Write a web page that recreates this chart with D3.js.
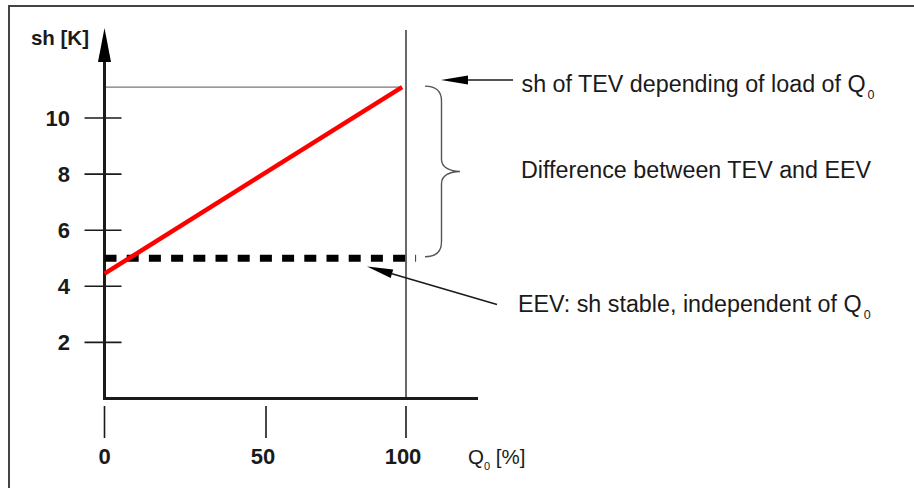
<!DOCTYPE html>
<html>
<head>
<meta charset="utf-8">
<script src="https://cdn.jsdelivr.net/npm/d3@7/dist/d3.min.js"></script>
<style>
  html, body { margin: 0; padding: 0; background: #fff; }
  svg { display: block; }
</style>
</head>
<body>
<svg id="chart" width="914" height="488"></svg>
<script>
// ---- data ----
const xTicks = [0, 50, 100];
const yTicks = [2, 4, 6, 8, 10];
const tevLoad = [0, 98.6];     // Q0 [%]
const tevSh = [4.45, 11.1];    // sh [K] of TEV
const eevLoad = [0, 103.6];
const eevSh = [5, 5];          // sh [K] of EEV
const tevMaxSh = 11.1;
const fullLoad = 100;
const yLabel = "sh [K]";
const xLabelMain = "Q", xLabelSub = "0", xLabelRest = " [%]";
const notes = [
  { main: "sh of TEV depending of load of Q", sub: "0" },
  { main: "Difference between TEV and EEV", sub: "" },
  { main: "EEV: sh stable, independent of Q", sub: "0" }
];

// ---- layout ----
const svg = d3.select("#chart");
const x = d3.scaleLinear().domain([0, 50, 100]).range([104.5, 266, 406]);
const y = d3.scaleLinear().domain([0, 10]).range([398.5, 118]);
const ink = "#1a1a1a";
const font = "'Liberation Sans', Arial, Helvetica, sans-serif";

// outer frame (only left and top visible)
svg.append("rect").attr("x", 9).attr("y", 6).attr("width", 1000).attr("height", 600)
  .attr("fill", "none").attr("stroke", "#444").attr("stroke-width", 2);

// gray reference line at TEV max
svg.append("line")
  .attr("x1", x(0)).attr("x2", x(tevLoad[1]))
  .attr("y1", y(tevMaxSh)).attr("y2", y(tevMaxSh))
  .attr("stroke", "#777").attr("stroke-width", 1.3);

// vertical full-load line
svg.append("line")
  .attr("x1", x(fullLoad)).attr("x2", x(fullLoad))
  .attr("y1", 30).attr("y2", y(0))
  .attr("stroke", "#2a2a2a").attr("stroke-width", 1.4);

// y axis with arrow
svg.append("line").attr("x1", x(0)).attr("x2", x(0))
  .attr("y1", y(0) + 1.5).attr("y2", 60)
  .attr("stroke", ink).attr("stroke-width", 3);
svg.append("path")
  .attr("d", `M${x(0)},28 L${x(0) - 6.5},62 L${x(0) + 6.5},62 Z`)
  .attr("fill", "#000");

// x axis
svg.append("line").attr("x1", x(0) - 1.5).attr("x2", 478)
  .attr("y1", y(0)).attr("y2", y(0))
  .attr("stroke", ink).attr("stroke-width", 3);

// y ticks
const yt = svg.append("g");
yt.selectAll("line").data(yTicks).join("line")
  .attr("x1", x(0) - 20).attr("x2", x(0) + 17)
  .attr("y1", d => y(d)).attr("y2", d => y(d))
  .attr("stroke", ink).attr("stroke-width", 1.6);
yt.selectAll("text").data(yTicks).join("text")
  .attr("x", 70).attr("y", d => y(d)).attr("dy", "0.36em")
  .attr("text-anchor", "end")
  .attr("font-family", font).attr("font-weight", "bold").attr("font-size", 22)
  .attr("fill", ink).text(d => d);

// x ticks
const xt = svg.append("g");
xt.selectAll("line").data(xTicks).join("line")
  .attr("x1", d => x(d)).attr("x2", d => x(d))
  .attr("y1", 406).attr("y2", 438)
  .attr("stroke", ink).attr("stroke-width", 1.6);
xt.selectAll("text").data(xTicks).join("text")
  .attr("x", d => x(d) - (d === 0 ? 0 : 3)).attr("y", 464)
  .attr("text-anchor", "middle")
  .attr("font-family", font).attr("font-weight", "bold").attr("font-size", 22)
  .attr("fill", ink).text(d => d);

// axis labels
svg.append("text").attr("x", 89).attr("y", 45).attr("text-anchor", "end")
  .attr("font-family", font).attr("font-weight", "bold").attr("font-size", 20.5)
  .attr("fill", ink).text(yLabel);
const xl = svg.append("text").attr("x", 468).attr("y", 464)
  .attr("font-family", font).attr("font-size", 20.5).attr("fill", ink);
xl.append("tspan").text(xLabelMain);
xl.append("tspan").attr("font-size", 11).attr("dy", 6).text(xLabelSub);
xl.append("tspan").attr("dy", -6).text(xLabelRest);

// EEV dashed line
const line = d3.line().x(d => x(d[0])).y(d => y(d[1]));
svg.append("path")
  .attr("d", line(d3.zip(eevLoad, eevSh)))
  .attr("fill", "none").attr("stroke", "#000").attr("stroke-width", 7)
  .attr("stroke-dasharray", "12,10.2");

// TEV red line
svg.append("path")
  .attr("d", line(d3.zip(tevLoad, tevSh)))
  .attr("fill", "none").attr("stroke", "#ff0000").attr("stroke-width", 4.5);

// brace
const bt = y(tevMaxSh) - 1, bb = y(eevSh[0]) - 1.5, bm = (bt + bb) / 2;
svg.append("path")
  .attr("d", `M425,${bt} C436,${bt} 441.5,${bt + 5} 441.5,${bt + 15} L441.5,${bm - 12}
              C441.5,${bm - 4} 450,${bm} 460,${bm} C450,${bm} 441.5,${bm + 4} 441.5,${bm + 12}
              L441.5,${bb - 15} C441.5,${bb - 5} 436,${bb} 425,${bb}`)
  .attr("fill", "none").attr("stroke", "#555").attr("stroke-width", 1.4);

// arrow 1 (horizontal)
svg.append("line").attr("x1", 513).attr("x2", 462).attr("y1", 80).attr("y2", 80)
  .attr("stroke", ink).attr("stroke-width", 1.6);
svg.append("path").attr("d", "M441,80 L468,75.5 L468,84.5 Z").attr("fill", "#000");

// arrow 2 (diagonal)
const ax1 = 497, ay1 = 304.5, ax2 = 367, ay2 = 266.5;
const ang = Math.atan2(ay1 - ay2, ax1 - ax2);
const hl = 26, hw = 4.5;
const bx = ax2 + hl * Math.cos(ang), by = ay2 + hl * Math.sin(ang);
svg.append("line").attr("x1", ax1).attr("y1", ay1).attr("x2", bx).attr("y2", by)
  .attr("stroke", ink).attr("stroke-width", 1.6);
svg.append("path")
  .attr("d", `M${ax2},${ay2} L${bx - hw * Math.sin(ang)},${by + hw * Math.cos(ang)} L${bx + hw * Math.sin(ang)},${by - hw * Math.cos(ang)} Z`)
  .attr("fill", "#000");

// annotation texts
const noteY = [92, 178, 312];
const noteX = [521.5, 521, 518];
notes.forEach((n, i) => {
  const t = svg.append("text").attr("x", noteX[i]).attr("y", noteY[i])
    .attr("font-family", font).attr("font-size", 23.3).attr("fill", ink);
  t.append("tspan").text(n.main);
  if (n.sub) t.append("tspan").attr("font-size", 12.5).attr("dx", 2).attr("dy", 7).text(n.sub);
});
</script>
</body>
</html>
